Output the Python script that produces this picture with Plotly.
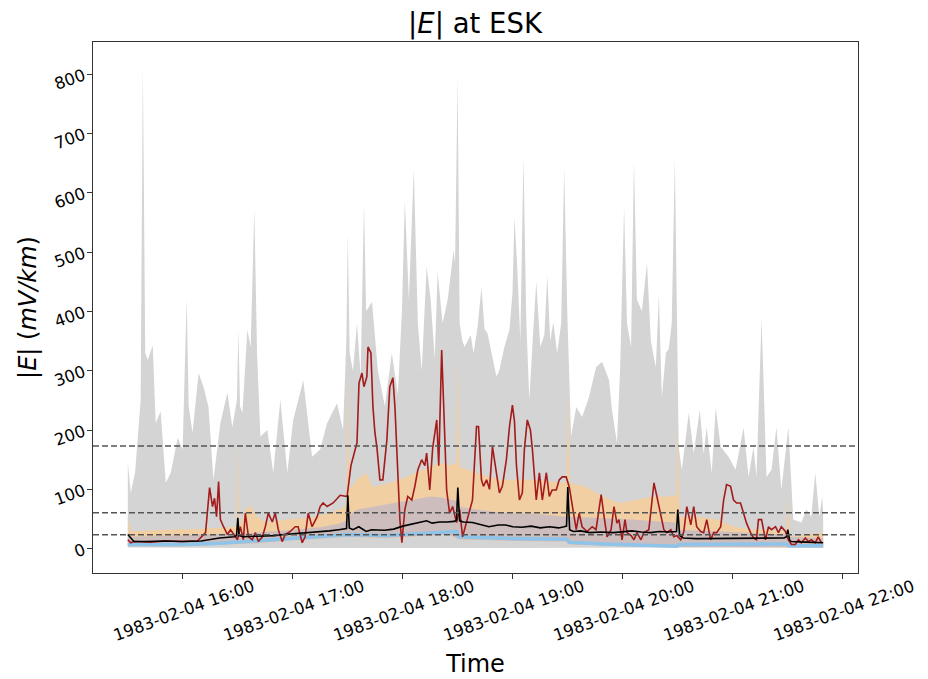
import pandas as pd
import plotly.graph_objects as go

# times are minutes after 1983-02-04 15:30
BASE = pd.Timestamp("1983-02-04 15:30")

# grey envelope (max of ensemble)
gray_t = [0, 1.6, 4, 7, 8.2, 9.5, 10.9, 13.6, 15.2, 17.9, 20.7, 23.4, 27.2, 29.9, 32.1, 33.2, 35.3, 38.6,
          41.3, 44, 46.7, 50.5, 54.3, 57, 59.5, 60.3, 61.2, 62.5, 65.2, 67, 69, 70.5, 72.3, 76.1, 79.3,
          83.2, 87, 90.2, 95.7, 100.5, 104.9, 108.7, 114.1, 117.4, 119.2, 120, 121, 122.8, 125, 127,
          128.8, 130, 133.2, 136.4, 140.2, 144, 147.3, 149.5, 151.1, 153.3, 156, 158.2, 160.3, 163,
          165.2, 167.4, 169, 171.7, 174.5, 177.7, 178.5, 179.9, 181, 182.5, 183.7, 187, 188.6, 190.8,
          192.9, 194.6, 196.2, 198.4, 201.1, 202.7, 205.4, 208.2, 209.8, 210.9, 212.5, 214.1, 215.8,
          217.4, 219, 221.2, 222.8, 225, 227.2, 228.8, 230.4, 232.1, 234.2, 236.4, 238, 239.7, 241.8,
          244.6, 247.8, 251.6, 255.4, 258.7, 262.5, 264.1, 266.8, 268.5, 270.7, 272.3, 274.5, 276.1,
          277.7, 280.4, 283.2, 285.3, 288, 289.7, 291.3, 293.5, 295.1, 296.7, 298.4, 300.5, 302.2, 306,
          308.7, 312, 314.1, 315.8, 318.5, 320.7, 323.4, 327.7, 331.5, 335.9, 338.6, 341.3, 342.9,
          345.7, 348.4, 351.1, 353.8, 356.5, 360.3, 363, 367.4, 370.1, 372.8, 375, 377.2, 378.8, 379.3]
gray_max = [145, 94, 130, 250, 815, 330, 318, 343, 212, 231, 111, 128, 187, 167, 422, 240, 195, 296,
            273, 239, 116, 212, 263, 205, 250, 369, 240, 229, 369, 340, 572, 330, 189, 200, 128,
            251, 128, 217, 284, 155, 167, 212, 245, 200, 350, 532, 330, 300, 380, 290,
            582, 400, 416, 300, 240, 330, 260, 400, 587, 420, 640, 380, 300, 475,
            419, 320, 465, 380, 420, 503, 480, 795, 380, 350, 340, 360, 330, 374,
            440, 370, 363, 330, 290, 301, 340, 370, 430, 559, 470, 350, 660,
            380, 251, 370, 450, 340, 360, 461, 350, 382, 330, 380, 641, 400, 189,
            239, 222, 256, 306, 315, 284, 234, 178, 300, 576, 380, 340, 652,
            420, 400, 481, 350, 306, 428, 256, 330, 337, 380, 658, 172, 133, 229,
            161, 234, 160, 205, 128, 237, 172, 155, 133, 204, 121, 172, 121,
            389, 121, 133, 205, 99, 205, 49, 44, 66, 54, 128, 54, 88, 60]
gray_min_t = [0, 100, 200, 300, 379.3]
gray_min = [2, 1, 1, 2, 2]

# 5-95 % band
orange_t = [0, 1.5, 5, 20, 40, 55, 59.3, 60, 60.7, 65, 67, 70, 75, 90, 100, 110, 115, 118, 119.3, 120, 121,
            125, 130, 133.7, 142.9, 152, 161, 170, 176, 179.3, 180, 181, 190, 203, 214, 225, 236, 239.3,
            240, 241, 250, 259, 268, 277, 286, 295, 299.3, 300, 301, 312, 321, 331, 340, 349, 358, 359.3,
            360, 361, 362, 378, 379.3]
orange_hi = [54, 29, 30, 32, 33, 36, 38, 180, 38, 70, 72, 55, 45, 50, 52, 60, 66, 70, 80, 300, 100,
             116, 128, 104, 111, 121, 133, 145, 140, 145, 330, 138, 128, 116, 116, 116, 111, 112,
             273, 111, 104, 88, 77, 82, 88, 88, 90, 212, 54, 54, 49, 37, 32, 32, 29, 30,
             88, 29, 20, 27, 27]

# 25-75 % band
mauve_t = [0, 30, 59.5, 60.5, 90, 105, 115, 119.5, 120.5, 125, 135, 145, 155, 165, 172, 179.5, 180.5, 190,
           205, 225, 239.5, 240.5, 255, 275, 290, 299.5, 300.5, 330, 359.5, 360.5, 379.3]
mauve_hi = [20, 22, 26, 25, 32, 36, 42, 48, 55, 66, 71, 77, 82, 88, 86, 80, 71, 66,
            60, 58, 54, 54, 52, 49, 46, 44, 32, 28, 24, 20, 18]

band_low_t = [0, 30, 70, 90, 120, 140, 175, 180.5, 210, 239.5, 240.5, 280, 379.3]
band_low = [4, 4, 9, 14, 20, 18, 24, 16, 13, 12, 7, 3, 2]

# lowest member
blue_t = [0, 30, 50, 70, 90, 105, 119, 120, 140, 160, 175, 179.5, 180.5, 190, 210, 239.5, 240.5, 260, 280,
          299.5, 300.5, 330, 359.5, 360.5, 379.3]
blue_v = [7, 7, 9, 13, 18, 21, 23, 24, 22, 25, 28, 29, 20, 19, 17, 16, 11, 8, 6,
          4, 7, 8, 8, 5, 5]

# ensemble median
med_t = [0, 1.5, 3.3, 10, 20, 30, 40, 50, 55, 58, 59.3, 60, 60.7, 63, 70, 80, 85, 90, 100, 105, 110, 115,
         118, 119.3, 120, 120.8, 122.8, 126, 130, 133, 140, 145, 150, 152.7, 156, 160, 163, 166, 170,
         174, 178, 179.3, 180, 181, 183, 188, 193, 197, 202, 206, 210, 215, 220, 225, 230, 235, 238,
         239.3, 240, 241, 243, 247, 252, 258, 265, 270, 275, 280, 285, 290, 295, 299.3, 300, 301, 303,
         310, 320, 330, 340, 350, 358, 359.3, 360, 361, 362, 370, 379.3]
med_v = [24, 18, 12, 12, 13, 12, 13, 18, 19, 20, 22, 52, 22, 20, 21, 22, 24, 25, 27, 28, 30, 32,
         33, 34, 90, 35, 32, 37, 29, 32, 31, 33, 38, 40, 42, 45, 47, 43, 45,
         45, 46, 48, 103, 47, 45, 44, 40, 37, 40, 40, 37, 36, 38, 35, 37, 35, 37,
         38, 104, 32, 29, 30, 27, 28, 27, 29, 30, 28, 27, 29, 28, 29, 66, 22, 18,
         17, 17, 17, 17, 17, 18, 20, 32, 14, 12, 11, 10]

# observed |E|
obs_t = [0, 1.6, 3.3, 12.5, 20.7, 28.8, 38, 39.7, 42.4, 44.6, 46.2, 47.3, 48.4, 49.5, 50.5, 52.2, 54.3, 56,
         57.6, 59.8, 61.4, 63, 64.1, 65.8, 67.9, 69.6, 71.2, 73.4, 75, 76.6, 78.8, 80.4, 82.1, 84.2, 85.9,
         88.6, 91.3, 92.9, 95.1, 96.7, 98.4, 100.5, 103.3, 104.9, 106.5, 108.7, 112, 115.8, 119.6, 121.7,
         123.4, 125, 126.1, 127.7, 128.8, 130.4, 131, 132.6, 133.7, 134.8, 135.9, 137.5, 139.1, 141.3,
         142.9, 144.6, 145.7, 146.7, 148.4, 149.5, 151.1, 152.7, 154.9, 156.5, 158.2, 160.3, 162, 163,
         164.7, 166.3, 168.5, 169.6, 171.2, 172.3, 173.9, 175.5, 177.2, 179.3, 181, 182.6, 184.8, 186.4,
         188, 190.2, 191.3, 192.9, 194, 195.7, 197.3, 198.9, 201.1, 202.7, 204.3, 206.5, 208.2, 209.8,
         210.9, 212, 213.6, 215.2, 216.3, 217.9, 219.6, 220.7, 222.8, 224.5, 226.1, 228.3, 229.9, 231.5,
         233.7, 235.3, 237, 239.1, 240.8, 242.4, 244.6, 246.2, 247.8, 250.5, 253.3, 255.4, 258.2, 259.8,
         261.4, 263.6, 265.2, 266.8, 267.9, 269.6, 271.2, 272.3, 274.5, 276.1, 277.7, 279.9, 281.5,
         284.2, 287, 288.6, 290.8, 292.4, 294, 296.2, 297.8, 299.5, 301.6, 303.3, 304.9, 307.1, 308.7,
         310.3, 312.5, 314.1, 315.8, 317.9, 319.6, 321.2, 323.4, 325, 326.6, 328.8, 330.4, 332.1, 334.2,
         335.9, 337.5, 339.7, 341.3, 342.9, 344, 345.7, 347.8, 349.5, 351.1, 353.3, 354.9, 356.5, 358.7,
         360.3, 362, 364.1, 365.8, 367.4, 369.6, 371.2, 372.8, 375, 376.6, 378.3]
obs_v = [15, 10, 12, 11, 13, 12, 13, 18, 27, 103, 71, 85, 54, 113, 49, 37, 24, 32,
         24, 15, 37, 15, 60, 20, 15, 27, 12, 20, 37, 60, 45, 60, 32, 12, 24,
         29, 37, 37, 10, 20, 60, 37, 54, 71, 77, 71, 77, 90, 88, 140,
         160, 178, 279, 296, 273, 290, 340, 330, 239, 195, 170, 116, 116, 183,
         273, 288, 239, 167, 49, 10, 66, 88, 82, 104, 133, 150, 140, 161,
         99, 170, 217, 140, 335, 240, 99, 60, 71, 44, 66, 20, 44, 60,
         82, 206, 206, 116, 105, 116, 100, 172, 128, 94, 105, 150, 206, 242,
         215, 140, 82, 94, 167, 217, 200, 167, 82, 128, 82, 128, 88, 99,
         99, 116, 121, 121, 104, 71, 32, 60, 37, 29, 37, 32, 91, 54,
         20, 32, 71, 43, 49, 15, 49, 27, 22, 15, 27, 15, 27,
         32, 111, 88, 54, 32, 27, 32, 20, 22, 15, 29, 71, 40, 71,
         37, 29, 27, 49, 15, 27, 27, 37, 82, 108, 105, 82, 77, 77,
         60, 43, 27, 18, 15, 49, 49, 15, 37, 32, 37, 27, 37, 29,
         15, 7, 7, 15, 10, 18, 12, 15, 10, 20, 10]

# threshold levels
thresholds = [173, 60.5, 23.5]


def to_time(minutes):
    return BASE + pd.to_timedelta(minutes, unit="min")


def band(t_hi, hi, t_lo, lo, color):
    x = list(to_time(t_hi)) + list(to_time(t_lo))[::-1]
    y = list(hi) + list(lo)[::-1]
    return go.Scatter(x=x, y=y, fill="toself", fillcolor=color, mode="none",
                      hoverinfo="skip", showlegend=False)


fig = go.Figure()
fig.add_trace(band(gray_t, gray_max, gray_min_t, gray_min, "#d4d4d4"))
fig.add_trace(band(orange_t, orange_hi, band_low_t, band_low, "#f1cfa3"))
fig.add_trace(band(mauve_t, mauve_hi, band_low_t, band_low, "#cdbdbc"))
fig.add_trace(go.Scatter(x=to_time(blue_t), y=blue_v, mode="lines",
                         line=dict(color="#8ec3ea", width=3.5), showlegend=False))
fig.add_trace(go.Scatter(x=to_time(obs_t), y=obs_v, mode="lines",
                         line=dict(color="#a31b1b", width=1.6), showlegend=False))
fig.add_trace(go.Scatter(x=to_time(med_t), y=med_v, mode="lines",
                         line=dict(color="black", width=1.6), showlegend=False))

for level in thresholds:
    fig.add_hline(y=level, line=dict(color="#555555", width=1.6, dash="6px,3px"))

hours = pd.date_range("1983-02-04 16:00", "1983-02-04 22:00", freq="h")

fig.update_layout(
    width=920, height=671,
    margin=dict(l=85, r=70, t=34, b=106),
    paper_bgcolor="white", plot_bgcolor="white",
    font=dict(family="DejaVu Sans", color="black"),
    title=dict(text="|<i>E</i>| at ESK", x=0.5076, xanchor="center", y=0.977, yanchor="middle",
               font=dict(size=27.5)),
    xaxis=dict(
        range=[to_time(-19), to_time(398.3)],
        tickmode="array", tickvals=hours,
        ticktext=[h.strftime("%Y-%m-%d %H:%M") for h in hours],
        tickangle=-20, tickfont=dict(size=16.5), ticklabelshift=70, ticklabelstandoff=-8,
        ticks="outside", ticklen=5, tickcolor="#333",
        showline=True, linecolor="#333", linewidth=1, mirror=True,
        showgrid=False, zeroline=False, automargin=False,
        title=dict(text="Time", font=dict(size=24), standoff=11),
    ),
    yaxis=dict(
        range=[-41, 854],
        tickvals=[0, 100, 200, 300, 400, 500, 600, 700, 800],
        tickangle=-20, tickfont=dict(size=16.5),
        ticks="outside", ticklen=5, tickcolor="#333",
        showline=True, linecolor="#333", linewidth=1, mirror=True,
        showgrid=False, zeroline=False, automargin=False,
        title=dict(text="|<i>E</i>| (<i>mV/km</i>)", font=dict(size=24), standoff=8),
    ),
)

fig.write_html("out.html")
